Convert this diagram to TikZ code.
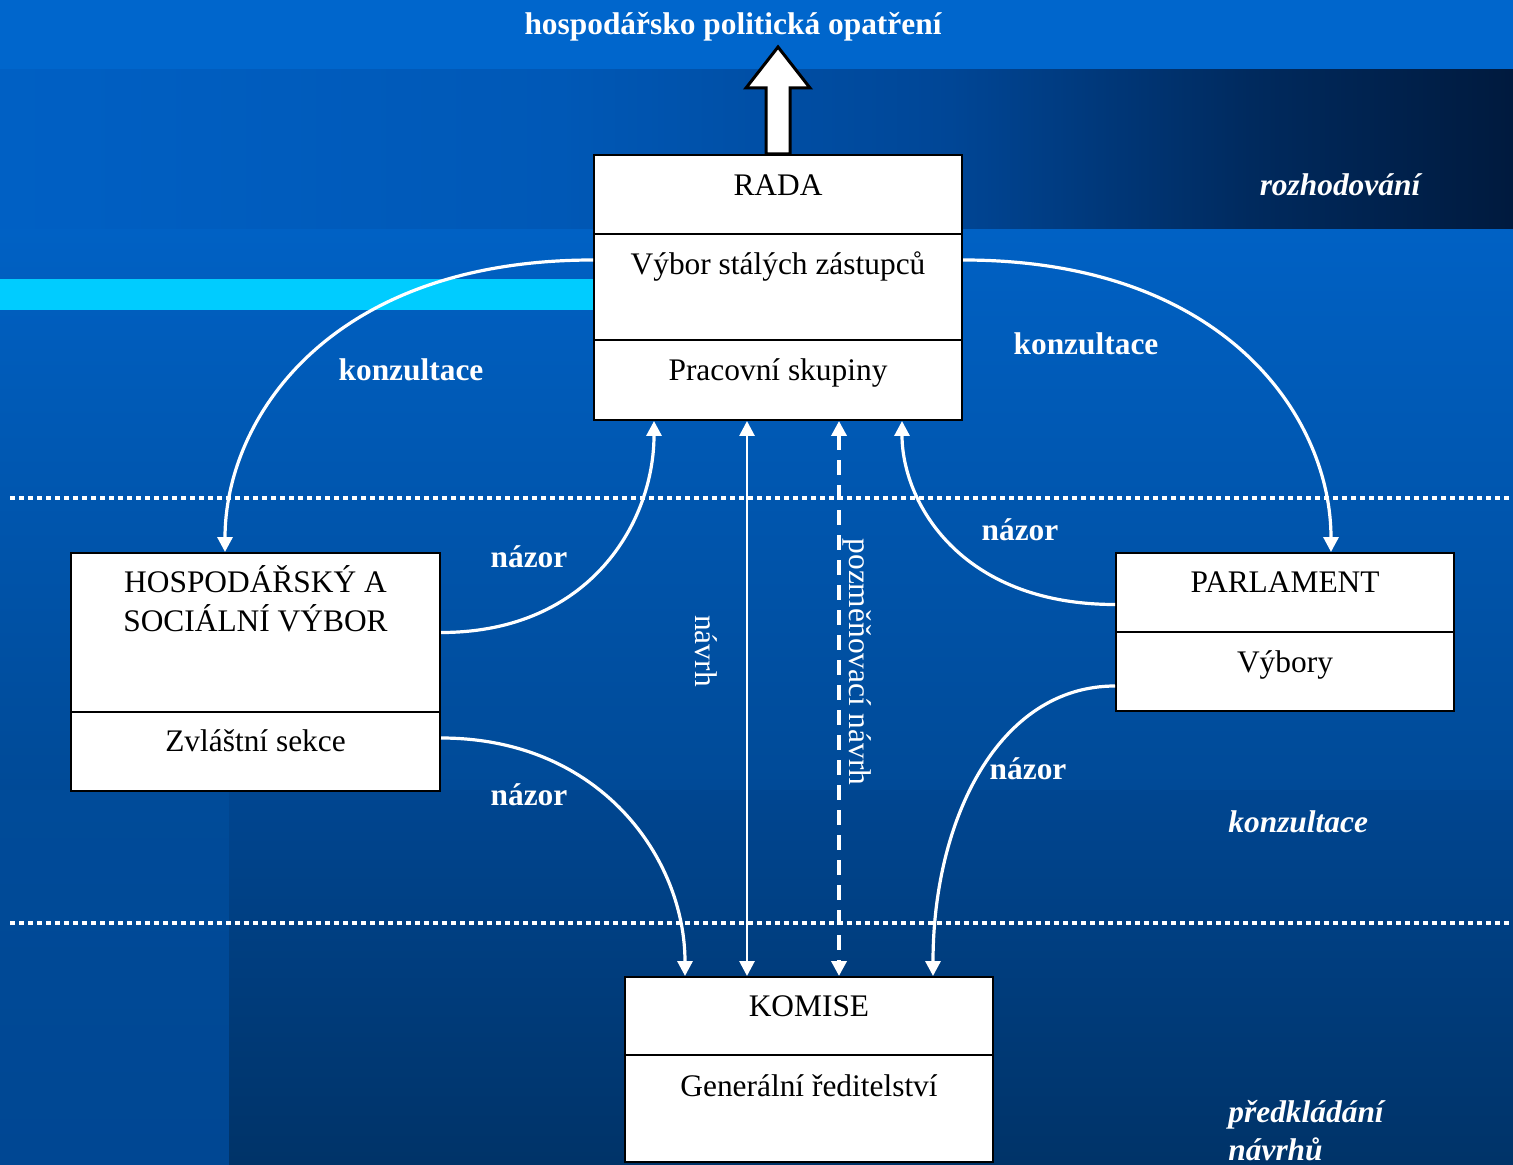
\documentclass[tikz,border=0pt]{standalone}
\usepackage{fontspec}
\setmainfont{Liberation Serif}
\usetikzlibrary{arrows.meta,calc}
\newcommand\fsz{\fontsize{15.7}{19}\selectfont}
\definecolor{topblue}{RGB}{0,102,204}
\definecolor{bandA}{RGB}{0,96,196}
\definecolor{bandB}{RGB}{0,88,182}
\definecolor{bandC}{RGB}{0,70,150}
\definecolor{bandD}{RGB}{0,42,94}
\definecolor{bandE}{RGB}{0,26,62}
\definecolor{mainA}{RGB}{0,97,196}
\definecolor{mainB}{RGB}{0,74,151}
\definecolor{lowA}{RGB}{0,70,145}
\definecolor{lowB}{RGB}{0,51,104}
\definecolor{stripA}{RGB}{0,75,153}
\definecolor{stripB}{RGB}{0,71,147}
\definecolor{cyanbar}{RGB}{0,204,255}
\tikzset{
 sec/.style={draw=black, fill=white, line width=1pt, inner sep=0pt},
 boxtxt/.style={anchor=base, text=black, font=\fsz, inner sep=0pt},
 lbl/.style={anchor=base, text=white, font=\fsz\bfseries, inner sep=0pt},
 ilbl/.style={anchor=base west, text=white, font=\fsz\bfseries\itshape, inner sep=0pt},
 rot/.style={rotate=-90, text=white, font=\fsz, inner sep=0pt},
 conn/.style={draw=white, line width=1.6pt, -{Triangle[length=7.5pt,width=7.5pt]}},
 conntwo/.style={draw=white, line width=1.4pt, {Triangle[length=7.5pt,width=7.5pt]}-{Triangle[length=7.5pt,width=7.5pt]}},
 dotline/.style={draw=white, line width=2pt, dash pattern=on 2.5pt off 2pt},
}
\begin{document}
\begin{tikzpicture}[x=0.5pt,y=-0.5pt]
\useasboundingbox (0,0) rectangle (1513,1165);
% background
\fill[topblue] (0,0) rectangle (1513,71);
\fill[left color=bandA,right color=bandB] (0,70) rectangle (561,231);
\fill[left color=bandB,right color=bandC] (560,70) rectangle (951,231);
\fill[left color=bandC,right color=bandD] (950,70) rectangle (1251,231);
\fill[left color=bandD,right color=bandE] (1250,70) rectangle (1513,231);
\fill[top color=mainA,bottom color=mainB] (0,230) rectangle (1513,791);
\fill[top color=stripA,bottom color=stripB] (0,790) rectangle (230,1165);
\fill[top color=lowA,bottom color=lowB] (229,790) rectangle (1513,1165);
\fill[cyanbar] (0,279) rectangle (594,310);
% dotted separators
\draw[dotline] (10,498) -- (1513,498);
\draw[dotline] (10,923) -- (1513,923);
% boxes
\node[sec, minimum width=184pt, minimum height=39.5pt] (rada1) at (778,194.5) {};
\node[sec, minimum width=184pt, minimum height=53pt] (rada2) at (778,287) {};
\node[sec, minimum width=184pt, minimum height=40pt] (rada3) at (778,380) {};
\node[sec, minimum width=184.5pt, minimum height=79.5pt] (hsv1) at (255.5,632.5) {};
\node[sec, minimum width=184.5pt, minimum height=39.5pt] (hsv2) at (255.5,751.5) {};
\node[sec, minimum width=169pt, minimum height=39.5pt] (parl1) at (1285,592.5) {};
\node[sec, minimum width=169pt, minimum height=39.5pt] (parl2) at (1285,671.5) {};
\node[sec, minimum width=184pt, minimum height=39pt] (kom1) at (809,1016) {};
\node[sec, minimum width=184pt, minimum height=53.5pt] (kom2) at (809,1108.5) {};
% box texts
\node[boxtxt] (trada) at (778,196) {RADA};
\node[boxtxt] (tvsz) at (778,275) {Výbor stálých zástupců};
\node[boxtxt] (tps) at (778,381) {Pracovní skupiny};
\node[boxtxt] (thsv1) at (255.5,592.5) {HOSPODÁŘSKÝ A};
\node[boxtxt] (thsv2) at (255.5,631.5) {SOCIÁLNÍ VÝBOR};
\node[boxtxt] (tzs) at (255.5,751.5) {Zvláštní sekce};
\node[boxtxt] (tparl) at (1285,592.5) {PARLAMENT};
\node[boxtxt] (tvyb) at (1285,672.5) {Výbory};
\node[boxtxt] (tkom) at (809,1016.5) {KOMISE};
\node[boxtxt] (tgr) at (809,1096) {Generální ředitelství};
% block arrow
\draw[black, line width=1.5pt, fill=white, line join=miter]
  ($(rada1.north)+(-12,0)$) -- ++(0,-66) -- ++(-20,0) -- ($(rada1.north)+(0,-107)$)
  -- ($(rada1.north)+(32,-66)$) -- ++(-20,0) -- ($(rada1.north)+(12,0)$) -- cycle;
% connectors
\draw[conn] ([yshift=-13.5pt]rada2.north west) .. controls +(-264,0) and +(0,-133) .. ([xshift=77.5pt]hsv1.north west);
\draw[conn] ([yshift=-13.5pt]rada2.north east) .. controls +(264,0) and +(0,-133) .. ([xshift=-62pt]parl1.north east);
\draw[conn] (hsv1.east) .. controls +(150,0) and +(0,100) .. ([xshift=30.5pt]rada3.south west);
\draw[conn] ([yshift=-6pt]parl1.west) .. controls +(-156,0) and +(0,80) .. ([xshift=-30.5pt]rada3.south east);
\draw[conn] ([yshift=6.75pt]hsv2.east) .. controls +(160,0) and +(0,-117) .. ([xshift=30.5pt]kom1.north west);
\draw[conn] ([yshift=-7.25pt]parl2.west) .. controls +(-116,0) and +(0,-157) .. ([xshift=-30.5pt]kom1.north east);
\draw[conntwo] ([xshift=-15.5pt]rada3.south) -- ([xshift=-31pt]kom1.north);
\draw[conntwo, line width=1.8pt, dash pattern=on 7.5pt off 5pt] ([xshift=30.5pt]rada3.south) -- ([xshift=15pt]kom1.north);
% labels
\node[lbl] (ltop) at (733,35) {hospodářsko politická opatření};
\node[lbl] (lkl) at (411,381) {konzultace};
\node[lbl] (lkr) at (1086,355) {konzultace};
\node[lbl] (ln1) at (529,567) {názor};
\node[lbl] (ln2) at (529,805) {názor};
\node[lbl] (ln3) at (1020,540) {názor};
\node[lbl] (ln4) at (1028,779) {názor};
\node[lbl, font=\fsz\bfseries\itshape] (lroz) at (1340,196) {rozhodování};
\node[ilbl] (lkon) at (1228,832) {konzultace};
\node[ilbl] (lpre) at (1228,1122) {předkládání};
\node[ilbl] (lnav) at (1228,1160) {návrhů};
\node[rot] (rnav) at (706,651) {návrh};
\node[rot] (rpoz) at (857,662) {pozměňovací návrh};
\end{tikzpicture}
\end{document}
